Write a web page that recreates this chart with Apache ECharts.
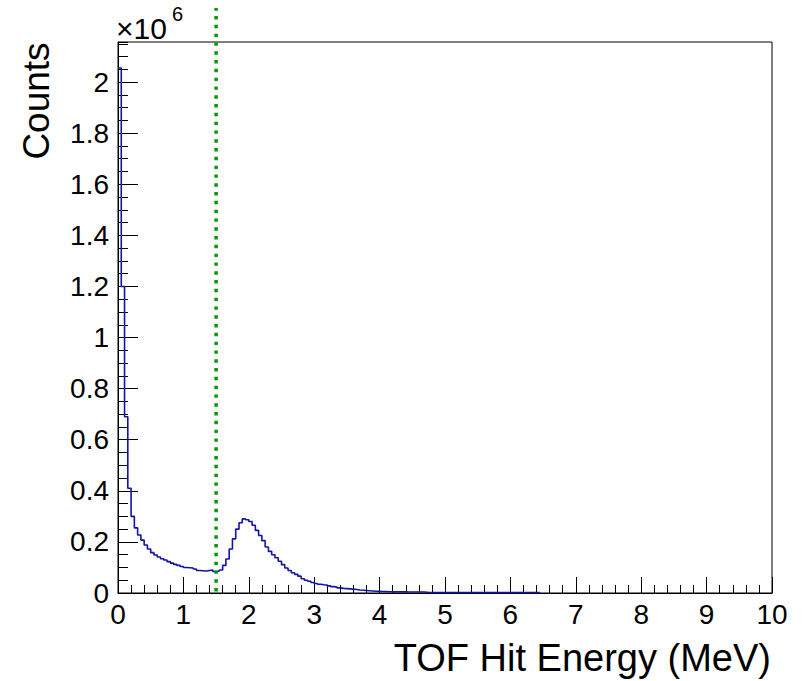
<!DOCTYPE html>
<html><head><meta charset="utf-8">
<script src="https://cdn.jsdelivr.net/npm/echarts@6/dist/echarts.min.js"></script>
<style>html,body{margin:0;padding:0;background:#fff}#c{width:803px;height:681px}</style>
</head><body><div id="c"></div>
<script>
// Histogram: TOF hit energy, bins of 0.05 MeV starting at 0; counts in units of 10^6
const binStart = 0;
const binWidth = 0.05;
const counts = [
  2.055, 1.20, 0.69, 0.41, 0.30, 0.255, 0.227, 0.207, 0.188, 0.172,
  0.158, 0.149, 0.141, 0.134, 0.129, 0.123, 0.117, 0.112, 0.108, 0.104,
  0.100, 0.099, 0.098, 0.094, 0.088, 0.087, 0.086, 0.088, 0.090, 0.084,
  0.086, 0.090, 0.108, 0.133, 0.172, 0.212, 0.250, 0.275, 0.290, 0.287,
  0.280, 0.265, 0.245, 0.225, 0.205, 0.180, 0.163, 0.150, 0.138, 0.124,
  0.111, 0.098, 0.088, 0.079, 0.073, 0.066, 0.056, 0.050, 0.046, 0.041,
  0.037, 0.034, 0.032, 0.031, 0.028, 0.025, 0.023, 0.020, 0.018, 0.017,
  0.016, 0.015, 0.014, 0.012, 0.011, 0.010, 0.009, 0.008, 0.007, 0.0065,
  0.006, 0.0055, 0.005, 0.0045, 0.0045, 0.0045, 0.0045, 0.0045, 0.004, 0.004,
  0.004, 0.004, 0.004, 0.004, 0.0015, 0.0015, 0.0015, 0.0015, 0.0015, 0.0015,
  0.0015, 0.0015, 0.0015, 0.0015, 0.0015, 0.0015, 0.0015, 0.0015, 0.0015, 0.0015,
  0.0015, 0.0015, 0.0015, 0.0015, 0.0015, 0.0015, 0.0015, 0.0015, 0.0015, 0.0015,
  0.0015, 0.0015, 0.0015, 0.0015, 0.0015, 0.0015, 0.0015, 0.0015, 0.0015
];
const cutEnergy = 1.5;          // MeV, dotted threshold line
const cutLineSpan = [0.006, 2.29]; // vertical extent of the threshold line (10^6 counts)
const xRange = [0, 10];
const yRange = [0, 2.157];
const xTitle = 'TOF Hit Energy (MeV)';
const yTitle = 'Counts';
const yExponent = '6';

const histData = counts.map((v, i) => [binStart + i * binWidth, v]);
histData.push([binStart + counts.length * binWidth, counts[counts.length - 1]]);

const FONT = '"Liberation Sans", Arial, Helvetica, sans-serif';
const chart = echarts.init(document.getElementById('c'), null, {renderer: 'svg'});
chart.setOption({
  animation: false,
  backgroundColor: '#fff',
  grid: {left: 118, right: 31, top: 42, bottom: 88, show: true, borderColor: '#000', borderWidth: 1, containLabel: false},
  xAxis: [{
    type: 'value', min: xRange[0], max: xRange[1], interval: 1,
    axisLine: {show: true, onZero: false, lineStyle: {color: '#000', width: 1}},
    axisTick: {show: true, inside: true, length: 16, lineStyle: {color: '#000', width: 1}},
    minorTick: {show: true, splitNumber: 5, length: 8, lineStyle: {color: '#000', width: 1}},
    splitLine: {show: false}, minorSplitLine: {show: false},
    axisLabel: {color: '#000', fontSize: 28, fontFamily: FONT, margin: 7}
  }],
  yAxis: [{
    type: 'value', min: yRange[0], max: yRange[1], interval: 0.2,
    axisLine: {show: true, onZero: false, lineStyle: {color: '#000', width: 1}},
    axisTick: {show: true, inside: true, length: 20, lineStyle: {color: '#000', width: 1}},
    splitLine: {show: false},
    axisLabel: {color: '#000', fontSize: 28, fontFamily: FONT, margin: 9, showMaxLabel: false}
  }, {
    type: 'value', min: yRange[0], max: yRange[1], interval: 0.05, position: 'left',
    axisLine: {show: false},
    axisTick: {show: true, inside: true, length: 10, lineStyle: {color: '#000', width: 1}},
    splitLine: {show: false},
    axisLabel: {show: false}
  }],
  series: [{
    type: 'line', step: 'end', data: histData, symbol: 'none', yAxisIndex: 0,
    lineStyle: {color: '#1414a0', width: 1.6}, z: 3
  }, {
    type: 'line', data: [[cutEnergy, cutLineSpan[0]], [cutEnergy, cutLineSpan[1]]],
    symbol: 'none', yAxisIndex: 0, clip: false,
    lineStyle: {color: '#009a00', width: 3.5, type: [3.4, 5.4], cap: 'butt'}, z: 4
  }],
  graphic: [
    {type: 'text', x: 116, y: 43, style: {text: '\u00d710', font: '30px ' + FONT, fill: '#000', align: 'left', verticalAlign: 'bottom'}},
    {type: 'text', x: 172, y: 24, style: {text: yExponent, font: '20px ' + FONT, fill: '#000', align: 'left', verticalAlign: 'bottom'}},
    {type: 'text', x: 36, y: 101, rotation: Math.PI / 2, style: {text: yTitle, font: '37px ' + FONT, fill: '#000', align: 'center', verticalAlign: 'middle'}},
    {type: 'text', x: 771, y: 658, style: {text: xTitle, font: '38px ' + FONT, fill: '#000', align: 'right', verticalAlign: 'middle'}}
  ]
});
</script></body></html>
